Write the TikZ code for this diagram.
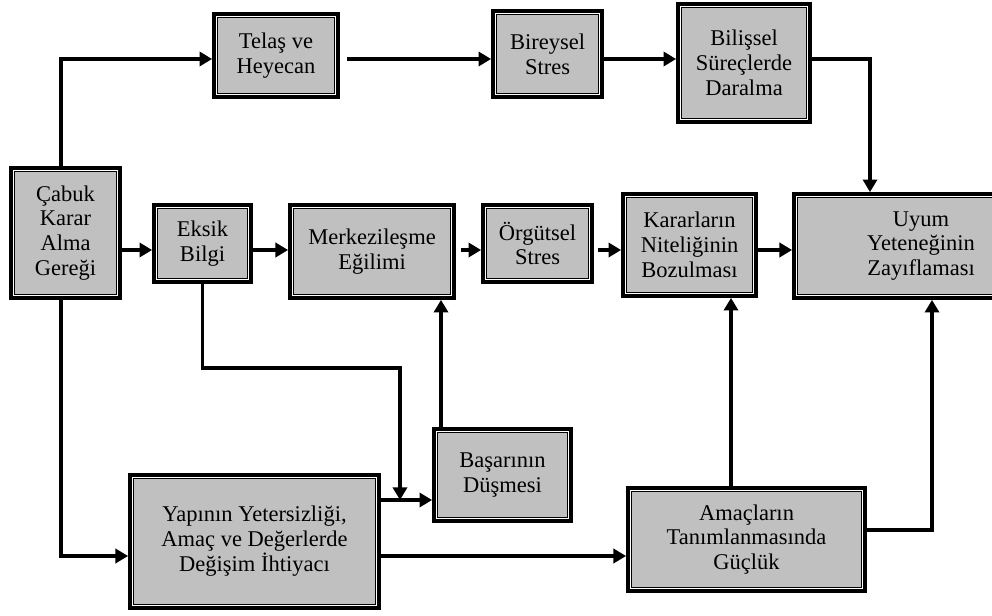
\documentclass[tikz,border=0pt]{standalone}
\usepackage{fontspec}
\setmainfont{Liberation Serif}
\usetikzlibrary{arrows.meta,calc}
\definecolor{boxgray}{RGB}{192,192,192}

\begin{document}
\begin{tikzpicture}[x=0.025cm,y=-0.025cm,
  box/.style={draw,line width=2.6pt,fill=boxgray,align=center,inner sep=2pt,
    font=\fontsize{16}{17.7}\selectfont,
    path picture={
      \draw[line width=5.6pt] (path picture bounding box.south west) rectangle (path picture bounding box.north east);
      \draw[white,line width=4.2pt] (path picture bounding box.south west) rectangle (path picture bounding box.north east);}},
  link/.style={line width=2.8pt,-{Triangle[length=9pt,width=10pt]}}]
\useasboundingbox (0,0) rectangle (992,616);

\node[box,minimum width=2.725cm,minimum height=3.25cm] (cabuk) at (65.5,233) {Çabuk\\Karar\\Alma\\Gereği};
\node[box,minimum width=3.1cm,minimum height=2.075cm] (telas) at (276,55.5) {Telaş ve\\Heyecan};
\node[box,minimum width=2.725cm,minimum height=2.15cm] (bireysel) at (547.5,54) {Bireysel\\Stres};
\node[box,minimum width=3.3cm,minimum height=2.95cm] (bilissel) at (744,63) {Bilişsel\\Süreçlerde\\Daralma};
\node[box,minimum width=2.425cm,minimum height=1.925cm] (eksik) at (202.5,243.5) {Eksik\\Bilgi};
\node[box,minimum width=4.1cm,minimum height=2.325cm] (merkez) at (372,251.5) {Merkezileşme\\Eğilimi};
\node[box,minimum width=2.725cm,minimum height=1.925cm] (orgutsel) at (537.5,243.5) {Örgütsel\\Stres};
\node[box,minimum width=3.325cm,minimum height=2.55cm] (kararlar) at (689.5,245) {Kararların\\Niteliğinin\\Bozulması};
\node[box,minimum width=6.35cm,minimum height=2.6cm] (uyum) at (921,246) {Uyum\\Yeteneğinin\\Zayıflaması};
\node[box,minimum width=3.425cm,minimum height=2.3cm] (basari) at (502.5,475) {Başarının\\Düşmesi};
\node[box,minimum width=6.225cm,minimum height=3.325cm] (yapi) at (254.5,541.5) {Yapının Yetersizliği,\\Amaç ve Değerlerde\\Değişim İhtiyacı};
\node[box,minimum width=5.925cm,minimum height=2.575cm] (amac) at (746.5,539.5) {Amaçların\\Tanımlanmasında\\Güçlük};

% rows and rails of the connectors
\coordinate (toprow) at (0,59);
\coordinate (midrow) at (0,250);
\coordinate (joinrow) at (0,500);
\coordinate (goalrow) at (0,530);
\coordinate (lowrow) at (0,556);
\coordinate (leftrail) at (61,0);
\coordinate (successrail) at (441,0);
\coordinate (goalrail) at (731,0);
\coordinate (rightrail) at (870,0);
\coordinate (farrail) at (932,0);
\coordinate (bend) at (400,368);
\coordinate (merge) at (400,500);

\path[draw,link] (cabuk.north -| leftrail) |- (telas.west |- toprow);
\path[draw,link,shorten <=5pt] (telas.east |- toprow) -- (bireysel.west |- toprow);
\path[draw,link] (bireysel.east |- toprow) -- (bilissel.west |- toprow);
\path[draw,link] (bilissel.east |- toprow) -| (uyum.north -| rightrail);

\path[draw,link] (cabuk.east |- midrow) -- (eksik.west |- midrow);
\path[draw,link] (eksik.east |- midrow) -- (merkez.west |- midrow);
\path[draw,link,shorten <=4pt] (merkez.east |- midrow) -- (orgutsel.west |- midrow);
\path[draw,link,shorten <=3pt] (orgutsel.east |- midrow) -- (kararlar.west |- midrow);
\path[draw,link] (kararlar.east |- midrow) -- (uyum.west |- midrow);

\path[draw,link] (cabuk.south -| leftrail) |- (yapi.west |- lowrow);
\path[draw,link] (eksik.south) |- (bend) -- (merge);
\path[draw,link] (yapi.east |- joinrow) -- (basari.west |- joinrow);
\path[draw,link] (basari.north -| successrail) -- (merkez.south -| successrail);
\path[draw,link] (yapi.east |- lowrow) -- (amac.west |- lowrow);
\path[draw,link] (amac.north -| goalrail) -- (kararlar.south -| goalrail);
\path[draw,link] (amac.east |- goalrow) -| (uyum.south -| farrail);
\end{tikzpicture}
\end{document}
